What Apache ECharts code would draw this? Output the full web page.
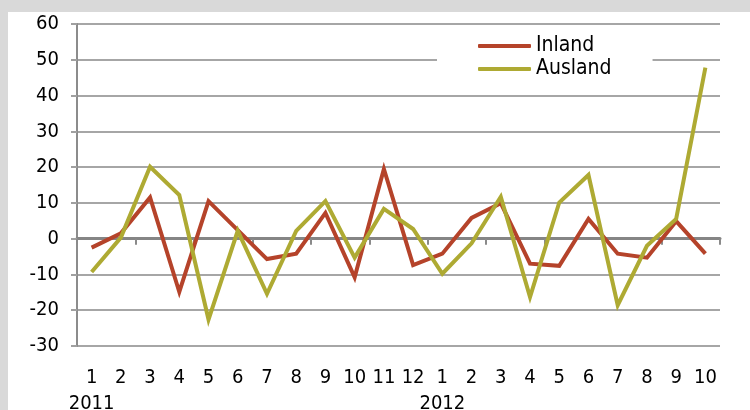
<!DOCTYPE html>
<html>
<head>
<meta charset="utf-8">
<script src="https://cdn.jsdelivr.net/npm/echarts@6/dist/echarts.min.js"></script>
<style>
  html, body { margin: 0; padding: 0; background: #d9d9d9; }
  #chart { position: absolute; left: 8px; top: 12px; width: 742px; height: 398px; background: #ffffff; }
</style>
</head>
<body>
<div id="chart"></div>
<script>
// Monthly categories, year shown under the first month of each year
const months = ['1\n2011', '2', '3', '4', '5', '6', '7', '8', '9', '10', '11', '12',
                '1\n2012', '2', '3', '4', '5', '6', '7', '8', '9', '10'];

// Change rates in percent
const inland  = [-2.5, 1.5, 11.5, -14.9, 10.5, 2.4, -5.7, -4.2, 7.2, -10.8, 19.5, -7.4,
                 -4.2, 5.8, 9.9, -7.0, -7.6, 5.5, -4.2, -5.3, 4.9, -4.2];
const ausland = [-9.3, 0.3, 20.1, 12.2, -22.6, 2.2, -15.4, 2.2, 10.5, -5.3, 8.3, 2.7,
                 -9.8, -1.3, 11.7, -16.3, 10.1, 17.8, -18.6, -2.0, 5.5, 47.8];

const yMin = -30, yMax = 60, yStep = 10;

const FONT = '"DejaVu Sans", sans-serif';
// narrow, tall glyphs: font-stretch goes into the canvas font shorthand
const STRETCH = 'condensed';
const RED = '#b5432a';
const GREEN = '#aeaa33';

const chart = echarts.init(document.getElementById('chart'));
chart.setOption({
  animation: false,
  textStyle: { fontFamily: FONT },
  grid: { left: 69, right: 30, top: 12, bottom: 64, containLabel: false, outerBoundsMode: 'none' },
  legend: {
    orient: 'vertical',
    left: 429,
    top: 18,
    padding: [5, 41, 5, 41],
    backgroundColor: '#ffffff',
    itemWidth: 53,
    itemHeight: 4,
    itemGap: 1,
    icon: 'roundRect',
    textStyle: { fontFamily: FONT, fontStyle: STRETCH, fontSize: 21, lineHeight: 22, color: '#000' },
    data: ['Inland', 'Ausland']
  },
  xAxis: [
    {
      type: 'category',
      data: months,
      position: 'bottom',
      boundaryGap: true,
      axisLine: { show: false, onZero: false },
      axisTick: { show: false },
      axisLabel: {
        interval: 0,
        margin: 19,
        fontFamily: FONT,
        fontStyle: STRETCH,
        fontSize: 20,
        lineHeight: 26,
        color: '#000'
      },
      splitLine: { show: false }
    },
    {
      type: 'category',
      data: months,
      position: 'bottom',
      boundaryGap: true,
      axisLine: { show: true, onZero: true, lineStyle: { color: '#858585', width: 3 } },
      axisTick: { show: true, length: 6, inside: false, lineStyle: { color: '#8a8a8a', width: 2 } },
      axisLabel: { show: false },
      splitLine: { show: false }
    }
  ],
  yAxis: {
    type: 'value',
    min: yMin,
    max: yMax,
    interval: yStep,
    axisLine: { show: true, lineStyle: { color: '#8c8c8c', width: 2 } },
    axisTick: { show: true, length: 6, lineStyle: { color: '#a0a0a0', width: 2 } },
    axisLabel: { margin: 18, fontFamily: FONT, fontStyle: STRETCH, fontSize: 20, color: '#000' },
    splitLine: { show: true, lineStyle: { color: '#a6a6a6', width: 2 } }
  },
  series: [
    {
      name: 'Inland',
      type: 'line',
      xAxisIndex: 0,
      data: inland,
      symbol: 'none',
      color: RED,
      lineStyle: { color: RED, width: 4, join: 'miter' },
      z: 3
    },
    {
      name: 'Ausland',
      type: 'line',
      xAxisIndex: 0,
      data: ausland,
      symbol: 'none',
      color: GREEN,
      lineStyle: { color: GREEN, width: 4, join: 'miter' },
      z: 4
    }
  ]
});
</script>
</body>
</html>
